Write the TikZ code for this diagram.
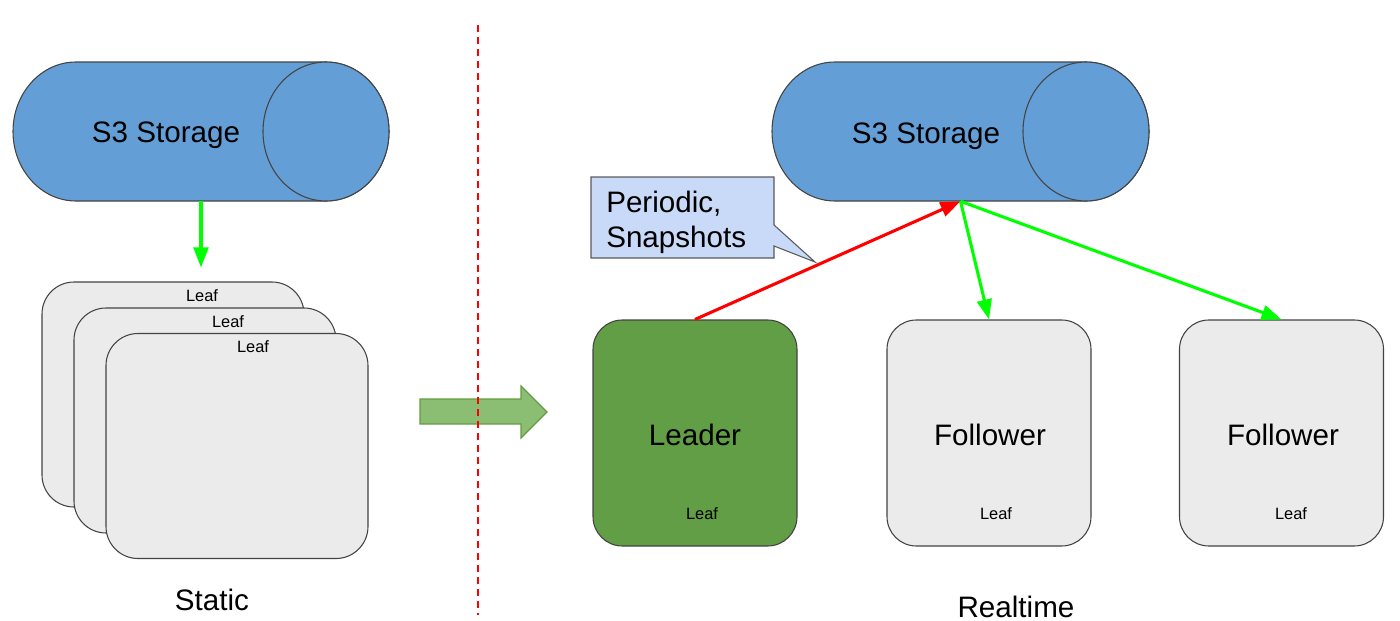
\documentclass[tikz,border=0pt]{standalone}
\usepackage{fontspec}
\setmainfont{Liberation Sans}
\usetikzlibrary{arrows.meta}
\definecolor{storeblue}{RGB}{99,159,214}
\definecolor{edgegray}{RGB}{67,67,67}
\definecolor{leafgray}{RGB}{235,235,235}
\definecolor{leadergreen}{RGB}{97,158,69}
\definecolor{notebg}{RGB}{201,218,248}
\definecolor{notegray}{RGB}{90,90,90}
\definecolor{shiftfill}{RGB}{139,189,115}
\definecolor{shiftedge}{RGB}{98,158,64}
\definecolor{flowgreen}{RGB}{0,255,0}
\tikzset{
  bigtext/.style={font=\fontsize{22.2}{26.3}\selectfont, inner sep=0pt, anchor=base},
  smalltext/.style={font=\fontsize{12.3}{14}\selectfont, inner sep=0pt, anchor=base},
  storage/.style={fill=storeblue, draw=edgegray, line width=0.8pt},
  storebox/.style={inner sep=0pt, minimum height=104.25pt},
  leafbox/.style={draw=edgegray, fill=leafgray, line width=0.8pt, rounded corners=24pt,
    minimum width=196.5pt, minimum height=168.75pt},
  nodebox/.style={draw=edgegray, line width=0.8pt, rounded corners=22pt,
    minimum width=153pt, minimum height=169.5pt},
  push/.style={-{Triangle[length=15pt,width=11pt]}, line width=2.3pt},
}
\begin{document}
\begin{tikzpicture}[x=0.75pt, y=-0.75pt]
    \useasboundingbox (0,0) rectangle (1400,621);
    % storage, static side
    \filldraw[storage] (76,62) -- (326,62)
        arc[start angle=270, end angle=450, x radius=63, y radius=69.5]
        -- (76,201)
        arc[start angle=90, end angle=270, x radius=63, y radius=69.5] -- cycle;
    \filldraw[storage] (326,131.5) ellipse[x radius=63, y radius=69.5];
    \node[storebox, minimum width=282pt] (s3left) at (201,131.5) {};
    \node[bigtext] (s3lefttext) at (166,142) {S3 Storage};
    % storage, realtime side
    \filldraw[storage] (835,62) -- (1086,62)
        arc[start angle=270, end angle=450, x radius=63, y radius=69.5]
        -- (835,201)
        arc[start angle=90, end angle=270, x radius=63, y radius=69.5] -- cycle;
    \filldraw[storage] (1086,131.5) ellipse[x radius=63, y radius=69.5];
    \node[storebox, minimum width=282.75pt] (s3right) at (960.5,131.5) {};
    \node[bigtext] (s3righttext) at (926,143) {S3 Storage};
    % static leaves
    \node[leafbox] (leafa) at (173,394.5) {};
    \node[smalltext] (leafatext) at (202,301) {Leaf};
    \node[leafbox] (leafb) at (205,420.5) {};
    \node[smalltext] (leafbtext) at (228,327) {Leaf};
    \node[leafbox] (leafc) at (237,446) {};
    \node[smalltext] (leafctext) at (253,352) {Leaf};
    \draw[push, flowgreen, shorten >=10.5pt] (s3left.south) -- (s3left.south |- leafa.north);
    \node[bigtext] (static) at (212,610) {Static};
    % move to realtime
    \filldraw[fill=shiftfill, draw=shiftedge, line width=0.9pt]
        (420,399) -- (521,399) -- (521,386) -- (547,412)
        -- (521,438) -- (521,424) -- (420,424) -- cycle;
    \draw[red, line width=1.5pt, dash pattern=on 5.5pt off 3.5pt] (478,25) -- (478,615);
    % realtime leaves
    \node[nodebox, fill=leadergreen] (leader) at (695,433) {};
    \node[bigtext] (leadertext) at (695,445) {Leader};
    \node[smalltext] (leaderleaf) at (702,519) {Leaf};
    \node[nodebox, fill=leafgray] (followa) at (989,433) {};
    \node[bigtext] (followatext) at (990,445) {Follower};
    \node[smalltext] (followaleaf) at (996,519) {Leaf};
    \node[nodebox, fill=leafgray] (followb) at (1281.5,433) {};
    \node[bigtext] (followbtext) at (1283,445) {Follower};
    \node[smalltext] (followbleaf) at (1291,519) {Leaf};
    \draw[push, red] (leader.north) -- (s3right.south);
    \draw[push, flowgreen] (s3right.south) -- (followa.north);
    \draw[push, flowgreen] (s3right.south) -- (followb.north);
    % snapshot note
    \filldraw[fill=notebg, draw=notegray, line width=0.8pt]
        (591,177) -- (774,177) -- (774,225) -- (815,262)
        -- (774,246) -- (774,258) -- (591,258) -- cycle;
    \node[bigtext, anchor=base west] (notea) at (606,212) {Periodic,};
    \node[bigtext, anchor=base west] (noteb) at (606,247) {Snapshots};
    \node[bigtext] (realtime) at (1016,617) {Realtime};
\end{tikzpicture}
\end{document}
